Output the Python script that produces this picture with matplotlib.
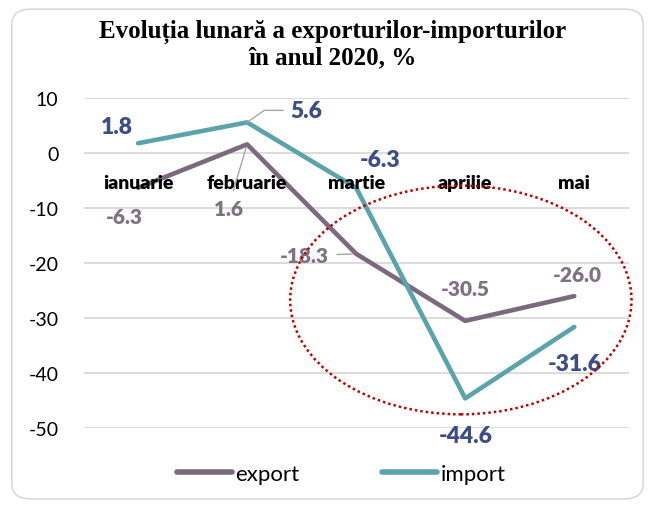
import matplotlib
matplotlib.use("Agg")
import matplotlib.pyplot as plt
from matplotlib.patches import Ellipse, FancyBboxPatch

months = ["ianuarie", "februarie", "martie", "aprilie", "mai"]
export_vals = [-6.3, 1.6, -18.3, -30.5, -26.0]
import_vals = [1.8, 5.6, -6.3, -44.6, -31.6]
y_ticks = [10, 0, -10, -20, -30, -40, -50]

EXPORT_C = "#7A6A7C"
IMPORT_C = "#5AA3AD"
EXPORT_TXT = "#7F7182"
IMPORT_TXT = "#3B4C86"
LEADER_C = "#A6A6A6"

plt.rcParams["font.family"] = ["Lato", "DejaVu Sans"]

fig = plt.figure(figsize=(6.55, 5.06), dpi=100)
fig.patches.append(FancyBboxPatch((0.018, 0.012), 0.964, 0.968,
                                  boxstyle="round,pad=0,rounding_size=0.03",
                                  transform=fig.transFigure, facecolor="white",
                                  edgecolor="#D9D9D9", lw=1.2, zorder=-1))

ax = fig.add_axes([0.1275, 0.152, 0.8325, 0.652])
ax.set_facecolor("none")
x = list(range(len(months)))

ax.plot(x, export_vals, color=EXPORT_C, lw=3.3, solid_capstyle="round",
        label="export", clip_on=False, zorder=3)
ax.plot(x, import_vals, color=IMPORT_C, lw=3.3, solid_capstyle="round",
        label="import", clip_on=False, zorder=3)

ax.set_xlim(-0.5, 4.5)
ax.set_ylim(-50, 10)
ax.set_yticks(y_ticks)
ax.set_yticklabels([str(v) for v in y_ticks], fontsize=14)
ax.set_xticks([])
ax.tick_params(axis="y", length=0, pad=18)
ax.grid(axis="y", color="#D9D9D9", lw=1.3)
ax.set_axisbelow(True)
for s in ax.spines.values():
    s.set_visible(False)

for i, m in enumerate(months):
    ax.text(i, -5.3, m, ha="center", va="center", fontsize=14,
            fontweight=800, zorder=4)

# data labels (offsets in pixels)
imp_off = [(-21, 17), (59, 12), (24, 28), (0, -37), (0, -37)]
exp_off = [(-14, -29), (-19, -64), (-52, -2), (0, 32), (3, 22)]

for i, (v, off) in enumerate(zip(import_vals, imp_off)):
    kw = {}
    if i == 1:
        kw["arrowprops"] = dict(arrowstyle="-", color=LEADER_C, lw=1,
                                shrinkA=3, shrinkB=0,
                                connectionstyle="angle,angleA=0,angleB=35,rad=0")
    ax.annotate(f"{v:.1f}", (i, v), xytext=off, textcoords="offset pixels",
                ha="center", va="center", fontsize=16.5, fontweight=800,
                color=IMPORT_TXT, zorder=5, annotation_clip=False, **kw)

for i, (v, off) in enumerate(zip(export_vals, exp_off)):
    kw = {}
    if i in (1, 2):
        kw["arrowprops"] = dict(arrowstyle="-", color=LEADER_C, lw=1,
                                shrinkA=4, shrinkB=2)
    ax.annotate(f"{v:.1f}", (i, v), xytext=off, textcoords="offset pixels",
                ha="center", va="center", fontsize=15, fontweight=800,
                color=EXPORT_TXT, zorder=5, annotation_clip=False, **kw)

ax.add_patch(Ellipse((2.96, -26.7), 3.13, 41.6, fill=False, edgecolor="#C00000",
                     lw=1.8, ls=(0, (1, 1.2)), clip_on=False, zorder=6))

fig.text(0.508, 0.912, "Evoluția lunară a exporturilor-importurilor\nîn anul 2020, %",
         ha="center", va="center", fontsize=18, fontweight="bold",
         family=["Liberation Serif", "DejaVu Serif"], linespacing=1.15)

leg = fig.legend(loc="center", bbox_to_anchor=(0.521, 0.061), ncol=2, frameon=False,
                 fontsize=16, handlelength=2.5, columnspacing=3.7, handletextpad=0.15)
for h in leg.get_lines():
    h.set_linewidth(4)
    h.set_solid_capstyle("round")

fig.savefig("out.png", dpi=100)
